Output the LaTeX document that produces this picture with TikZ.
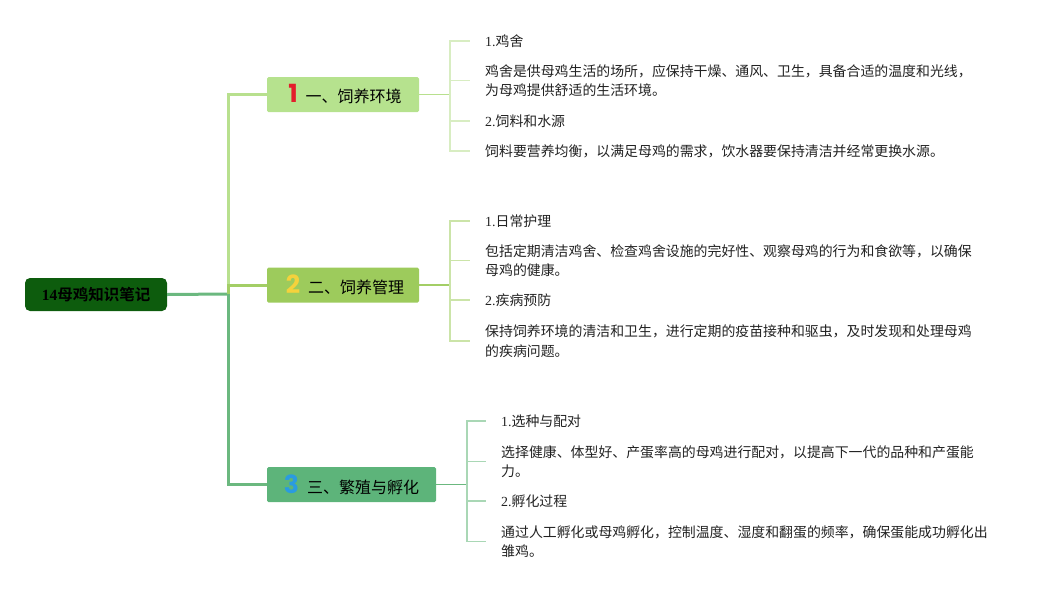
\documentclass[tikz,border=0pt]{standalone}
\usepackage{fontspec}
\setmainfont{Liberation Serif}
\newfontfamily\cjk[BoldFont={Noto Sans CJK SC Bold}]{Noto Sans CJK SC}
\newfontfamily\numf{Poppins}
\definecolor{rootc}{HTML}{0D5C0D}
\definecolor{bA}{HTML}{B6E28E}
\definecolor{bB}{HTML}{9DCB5C}
\definecolor{bC}{HTML}{5DB47A}
\definecolor{lA}{HTML}{B8E08E}
\definecolor{lB}{HTML}{A3CE66}
\definecolor{lC}{HTML}{6BB87F}
\definecolor{kA}{HTML}{D8EDC2}
\definecolor{kB}{HTML}{CBE4A8}
\definecolor{kC}{HTML}{A9D7B5}
\definecolor{nA}{HTML}{E31E2B}
\definecolor{nB}{HTML}{F4D23C}
\definecolor{nC}{HTML}{2A9BE0}
\definecolor{txt}{HTML}{222222}
\tikzset{
  x=1pt, y=-1pt,
  rootbox/.style={fill=rootc, rounded corners=5pt, minimum width=142pt, minimum height=33pt, inner sep=0pt,
    font=\fontsize{15.5}{18}\selectfont\bfseries, text=black},
  brbox/.style={rounded corners=1.5pt, minimum height=35pt, inner sep=0pt, font=\cjk\fontsize{16}{18}\selectfont, text=black},
  leaf/.style={anchor=west, inner xsep=15pt, inner ysep=0pt, align=left, text=txt,
    font=\cjk\fontsize{13.9}{19.5}\selectfont},
  mainline/.style={line width=3pt},
  subline/.style={line width=1.6pt},
  kidline/.style={line width=1.3pt}
}
\newcommand{\bignum}[2]{{\numf\bfseries\fontsize{25}{25}\selectfont\color{#1}#2}\hspace{8pt}}
\begin{document}
\begin{tikzpicture}
\useasboundingbox (0,0) rectangle (1061,590);
\node[rootbox] (root) at (96,294.5) {14{\cjk\bfseries 母鸡知识笔记}};
\coordinate (j) at (228,294);
\node[brbox, fill=bA, minimum width=152pt] (b1) at (343,94.5) {\hspace{4pt}\bignum{nA}{1}一、饲养环境};
\node[brbox, fill=bB, minimum width=152pt] (b2) at (343,285) {\hspace{4pt}\bignum{nB}{2}二、饲养管理};
\node[brbox, fill=bC, minimum width=169pt] (b3) at (351.5,484.5) {\bignum{nC}{3}三、繁殖与孵化};

\draw[mainline, lC] (root.east) -- (j);
\draw[mainline, lA] (j) |- (b1.west);
\draw[mainline, lB] (j) |- (b2.west);
\draw[mainline, lC] (j) |- (b3.west);

% leaves branch 1
\node[leaf] (c11) at (470,41) {{\rmfamily 1.}鸡舍};
\node[leaf] (c12) at (470,80.5) {鸡舍是供母鸡生活的场所，应保持干燥、通风、卫生，具备合适的温度和光线，\\为母鸡提供舒适的生活环境。};
\node[leaf] (c13) at (470,121) {{\rmfamily 2.}饲料和水源};
\node[leaf] (c14) at (470,151) {饲料要营养均衡，以满足母鸡的需求，饮水器要保持清洁并经常更换水源。};
\coordinate (k1) at (450,94.5);
\draw[subline, lA] (b1.east) -- (k1);
\foreach \c in {c11,c12,c13,c14} \draw[kidline, kA] (k1) |- (\c.west);

% leaves branch 2
\node[leaf] (c21) at (470,221) {{\rmfamily 1.}日常护理};
\node[leaf] (c22) at (470,260.5) {包括定期清洁鸡舍、检查鸡舍设施的完好性、观察母鸡的行为和食欲等，以确保\\母鸡的健康。};
\node[leaf] (c23) at (470,300) {{\rmfamily 2.}疾病预防};
\node[leaf] (c24) at (470,341) {保持饲养环境的清洁和卫生，进行定期的疫苗接种和驱虫，及时发现和处理母鸡\\的疾病问题。};
\coordinate (k2) at (450,285);
\draw[subline, lB] (b2.east) -- (k2);
\foreach \c in {c21,c22,c23,c24} \draw[kidline, kB] (k2) |- (\c.west);

% leaves branch 3
\node[leaf] (c31) at (486,421) {{\rmfamily 1.}选种与配对};
\node[leaf] (c32) at (486,461.5) {选择健康、体型好、产蛋率高的母鸡进行配对，以提高下一代的品种和产蛋能\\力。};
\node[leaf] (c33) at (486,501) {{\rmfamily 2.}孵化过程};
\node[leaf] (c34) at (486,541.5) {通过人工孵化或母鸡孵化，控制温度、湿度和翻蛋的频率，确保蛋能成功孵化出\\雏鸡。};
\coordinate (k3) at (467,484.5);
\draw[subline, lC] (b3.east) -- (k3);
\foreach \c in {c31,c32,c33,c34} \draw[kidline, kC] (k3) |- (\c.west);
\end{tikzpicture}
\end{document}
